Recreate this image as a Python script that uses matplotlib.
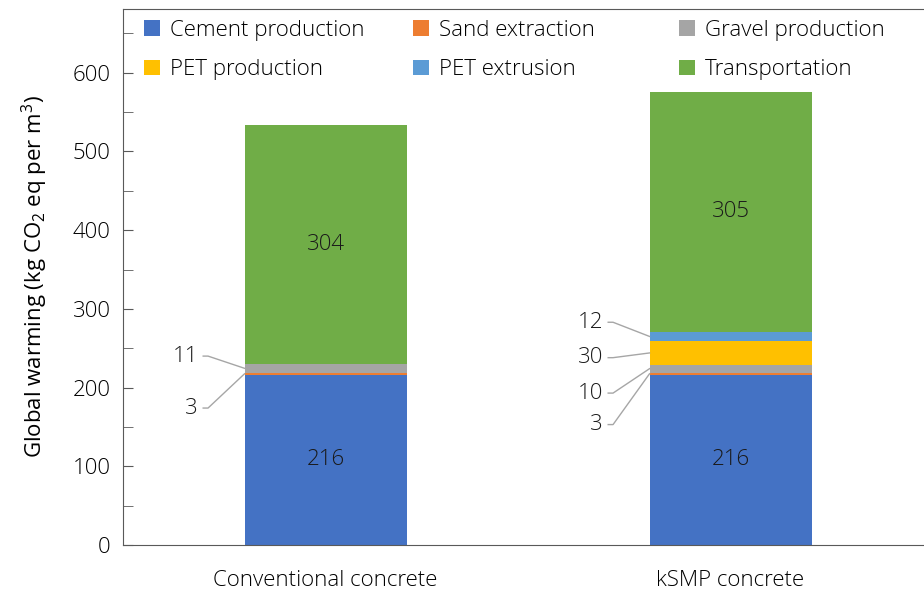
import numpy as np
import matplotlib.pyplot as plt
from matplotlib.ticker import MultipleLocator

plt.rcParams['font.family'] = ['Open Sans', 'DejaVu Sans']
plt.rcParams['font.weight'] = 'light'
plt.rcParams['mathtext.fontset'] = 'custom'
plt.rcParams['mathtext.rm'] = 'Open Sans:light'
plt.rcParams['mathtext.it'] = 'Open Sans:light'
plt.rcParams['mathtext.default'] = 'regular'

categories = ['Conventional concrete', 'kSMP concrete']
components = ['Cement production', 'Sand extraction', 'Gravel production',
              'PET production', 'PET extrusion', 'Transportation']
values = {
    'Cement production': [216, 216],
    'Sand extraction': [3, 3],
    'Gravel production': [11, 10],
    'PET production': [0, 30],
    'PET extrusion': [0, 12],
    'Transportation': [304, 305],
}
colors = ['#4472C4', '#ED7D31', '#A5A5A5', '#FFC000', '#5B9BD5', '#70AD47']

# labels written inside the bar / labels placed outside with leader lines
inside = {'Cement production', 'Transportation'}
outside_pos = {  # (bar index, component): label y
    (0, 'Gravel production'): 240,
    (0, 'Sand extraction'): 174,
    (1, 'PET extrusion'): 283,
    (1, 'PET production'): 238,
    (1, 'Gravel production'): 193,
    (1, 'Sand extraction'): 153,
}

fs = 16
fig = plt.figure(figsize=(9.24, 5.91), dpi=100)
ax = fig.add_axes([123/924, 46/591, 810/924, 536/591])

x = np.arange(len(categories))
w = 0.4
bottom = np.zeros(len(categories))
handles = []
for comp, c in zip(components, colors):
    v = np.array(values[comp], dtype=float)
    h = ax.bar(x, v, w, bottom=bottom, color=c, label=comp, linewidth=0)
    handles.append(h)
    for i in range(len(categories)):
        if v[i] == 0:
            continue
        mid = bottom[i] + v[i] / 2
        if comp in inside:
            ax.text(x[i], mid, f'{v[i]:.0f}', ha='center', va='center', fontsize=fs, color='#1a1a1a')
        elif (i, comp) in outside_pos:
            ly = outside_pos[(i, comp)]
            ax.text(x[i] - 0.315, ly, f'{v[i]:.0f}', ha='right', va='center', fontsize=fs, color='#1a1a1a')
            ax.plot([x[i] - 0.302, x[i] - 0.29, x[i] - w / 2], [ly, ly, mid],
                    color='#A6A6A6', lw=1, clip_on=False)
    bottom += v

ax.set_xlim(-0.5, 1.5)
ax.set_ylim(0, 681)
ax.set_xticks(x)
ax.set_xticklabels(categories, fontsize=fs)
ax.tick_params(axis='x', length=0, pad=18)
ax.yaxis.set_major_locator(MultipleLocator(100))
ax.yaxis.set_minor_locator(MultipleLocator(50))
ax.tick_params(axis='y', which='both', direction='in', length=7, color='#595959', labelsize=fs, pad=9)
ax.set_ylabel('Global warming (kg CO$_2$ eq per m$^3$)', fontsize=fs, labelpad=16)
for s in ['left', 'bottom', 'top']:
    ax.spines[s].set_color('#595959')
ax.spines['right'].set_visible(False)

# legend: three columns of two entries, each placed on its own
col_x = [0.015, 0.347, 0.676]
for j, cx in enumerate(col_x):
    idx = [j, j + 3]
    leg = ax.legend([handles[k] for k in idx], [components[k] for k in idx],
                    loc='upper left', bbox_to_anchor=(cx, 0.996), frameon=False, fontsize=fs,
                    handlelength=0.7, handleheight=0.7, handletextpad=0.45,
                    borderaxespad=0.15, borderpad=0.25, labelspacing=0.82)
    if j < len(col_x) - 1:
        ax.add_artist(leg)

fig.savefig('out.png', dpi=100)
